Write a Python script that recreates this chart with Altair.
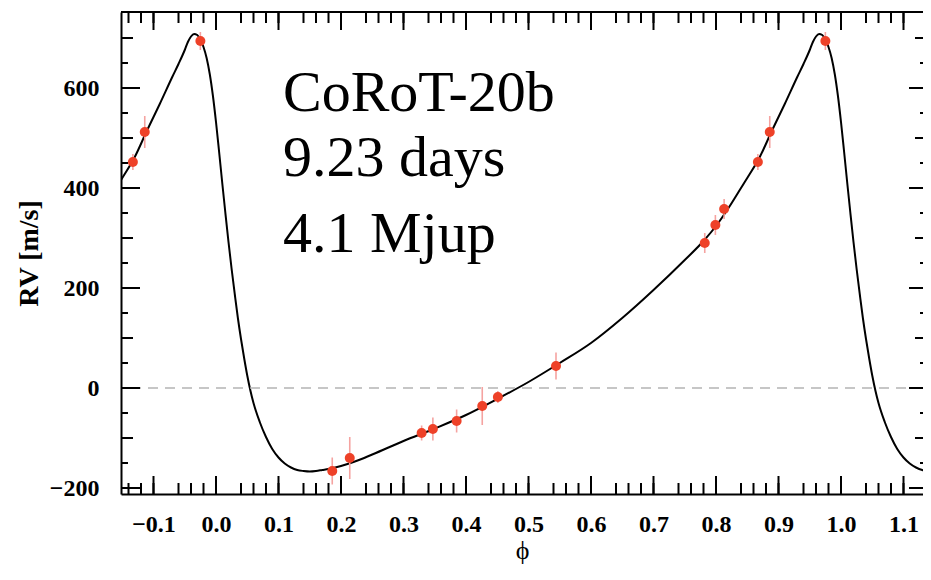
import altair as alt
import pandas as pd

# ---------------- data ----------------
# Keplerian model curve, one cycle (phase, RV m/s)
curve_phase = [-0.155, -0.15, -0.13, -0.11, -0.09, -0.07, -0.06, -0.05, -0.045, -0.04,
               -0.035, -0.03, -0.025, -0.02, -0.015, -0.01, -0.005, 0.0, 0.005, 0.01,
               0.015, 0.02, 0.025, 0.03, 0.035, 0.04, 0.045, 0.05, 0.055, 0.06,
               0.07, 0.08, 0.09, 0.10, 0.11, 0.12, 0.13, 0.14, 0.15, 0.16,
               0.17, 0.18, 0.20, 0.22, 0.25, 0.30, 0.35, 0.40, 0.45, 0.50,
               0.55, 0.60, 0.65, 0.70, 0.75, 0.78, 0.80, 0.82, 0.84]
curve_rv = [410, 420, 462, 516, 568, 622, 648, 676, 692, 703,
            708, 706, 697, 682, 660, 628, 585, 532, 472, 410,
            350, 292, 238, 188, 140, 98, 60, 25, -5, -30,
            -68, -98, -122, -139, -151, -159, -164, -166, -167, -166,
            -164, -162, -156, -148, -133, -106, -81, -54, -22, 12,
            50, 90, 140, 196, 256, 294, 324, 360, 400]

# RV measurements
obs_phase = [0.186, 0.214, 0.329, 0.347, 0.385, 0.426, 0.451, 0.544,
             0.782, 0.799, 0.813, 0.867, 0.886, 0.975]
obs_rv = [-166, -140, -90, -82, -66, -36, -18, 44,
          290, 326, 358, 452, 512, 694]
obs_err = [27, 42, 15, 23, 23, 38, 12, 27,
           20, 20, 20, 16, 32, 18]

# axis ticks
x_major = [-0.1, 0.0, 0.1, 0.2, 0.3, 0.4, 0.5, 0.6, 0.7, 0.8, 0.9, 1.0, 1.1]
x_minor = [round(-0.14 + 0.02 * i, 2) for i in range(65) if (i + 2) % 5 != 0]
y_major = [-200, 0, 200, 400, 600]
y_mid = [-100, 100, 300, 500, 700]
y_minor = [-150, -50, 50, 150, 250, 350, 450, 550, 650]

label_lines = ["CoRoT-20b", "9.23 days", "4.1 Mjup"]

# ---------------- tables ----------------
W, H = 802, 482
X0 = -0.152
X1 = X0 + W / 625.0
Y0, Y1 = -212, 752

curve = pd.DataFrame({"phase": curve_phase, "rv": curve_rv})
curve2 = curve[curve.phase <= 0.16].copy()
curve2["phase"] = curve2["phase"] + 1
curve_all = pd.concat([curve, curve2]).sort_values("phase")

obs = pd.DataFrame({"phase": obs_phase, "rv": obs_rv, "err": obs_err})
obs2 = obs[obs.phase - 1 >= X0].copy()
obs2["phase"] = obs2["phase"] - 1
obs_all = pd.concat([obs, obs2])
obs_all["lo"] = obs_all["rv"] - obs_all["err"]
obs_all["hi"] = obs_all["rv"] + obs_all["err"]

xs = alt.Scale(domain=[X0, X1], nice=False, zero=False)
ys = alt.Scale(domain=[Y0, Y1], nice=False, zero=False)

FONT = "Liberation Serif"

x_axis = alt.Axis(values=x_major, format=".1f", ticks=False, grid=False,
                  domain=True, domainColor="black", domainWidth=2,
                  labelFont=FONT, labelFontWeight="bold", labelFontSize=24,
                  labelColor="black", labelPadding=18, labelFlush=False,
                  labelOverlap=False,
                  title="ϕ", titleFont=FONT, titleFontWeight="normal",
                  titleFontSize=26, titleColor="black", titlePadding=1)
y_axis = alt.Axis(values=y_major, format="d", ticks=False, grid=False,
                  domain=True, domainColor="black", domainWidth=2,
                  labelFont=FONT, labelFontWeight="bold", labelFontSize=24,
                  labelColor="black", labelPadding=22, labelFlush=False,
                  labelOverlap=False,
                  title="RV [m/s]", titleFont=FONT, titleFontWeight="bold",
                  titleFontSize=28, titleColor="black", titlePadding=6)

X = lambda f="phase": alt.X(f"{f}:Q", scale=xs, axis=x_axis)
Y = lambda f="rv": alt.Y(f"{f}:Q", scale=ys, axis=y_axis)

zero = alt.Chart(pd.DataFrame({"rv": [0]})).mark_rule(
    color="#b4b4b4", strokeWidth=1.6, strokeDash=[10, 7]
).encode(y=Y())

line = alt.Chart(curve_all).mark_line(
    color="black", strokeWidth=2, clip=True, interpolate="monotone"
).encode(x=X(), y=Y())

bars = alt.Chart(obs_all).mark_rule(color="#f5a3a0", strokeWidth=1.6).encode(
    x=X(), y=Y("lo"), y2="hi"
)

pts = alt.Chart(obs_all).mark_circle(color="#ee4128", opacity=1, size=100).encode(
    x=X(), y=Y()
)

def xticks(vals, length):
    d = pd.DataFrame({"phase": vals})
    bot = alt.Chart(d).mark_rule(color="black", strokeWidth=2, clip=True).encode(
        x=X(), y=alt.value(H), y2=alt.value(H - length))
    top = alt.Chart(d).mark_rule(color="black", strokeWidth=2, clip=True).encode(
        x=X(), y=alt.value(0), y2=alt.value(length))
    return [bot, top]

def yticks(vals, length, rlength):
    d = pd.DataFrame({"rv": vals})
    left = alt.Chart(d).mark_rule(color="black", strokeWidth=2).encode(
        y=Y(), x=alt.value(0), x2=alt.value(length))
    right = alt.Chart(d).mark_rule(color="black", strokeWidth=2).encode(
        y=Y(), x=alt.value(W - rlength), x2=alt.value(W))
    return [left, right]

ticks = (xticks(x_major, 18) + xticks(x_minor, 11)
         + yticks(y_major, 19, 14) + yticks(y_mid, 12, 8) + yticks(y_minor, 7, 3))

top_frame = alt.Chart(pd.DataFrame({"a": [0]})).mark_rule(
    color="black", strokeWidth=2
).encode(y=alt.value(0), x=alt.value(0), x2=alt.value(W))

texts = []
for txt, yb in zip(label_lines, [99, 164, 240]):
    texts.append(
        alt.Chart(pd.DataFrame({"t": [txt]})).mark_text(
            font=FONT, fontSize=58, color="black", align="left",
            baseline="alphabetic"
        ).encode(text="t:N", x=alt.value(162), y=alt.value(yb))
    )

chart = alt.layer(line, zero, bars, pts, *ticks, top_frame, *texts).properties(
    width=W, height=H,
    autosize=alt.AutoSizeParams(type="none"),
    padding={"left": 113, "top": 4, "right": 0, "bottom": 72},
    background="white",
).configure_view(stroke=None)

chart.save("out.html", embed_options={"renderer": "svg", "actions": False})
